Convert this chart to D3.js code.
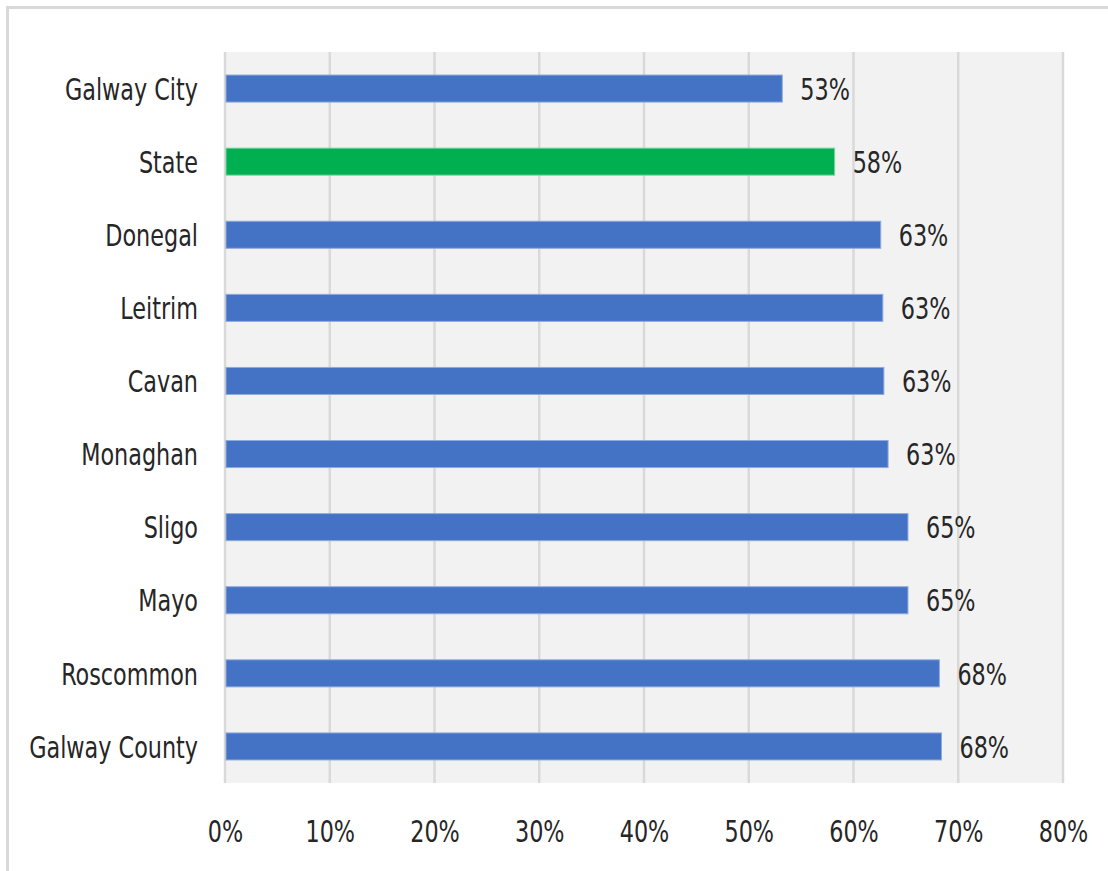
<!DOCTYPE html>
<html>
<head>
<meta charset="utf-8">
<script src="https://cdn.jsdelivr.net/npm/d3@7"></script>
<style>
  html, body { margin: 0; padding: 0; background: #ffffff; }
  svg { display: block; }
  text { font-family: "DejaVu Sans Condensed", "DejaVu Sans", sans-serif; fill: #262626; }
</style>
</head>
<body>
<svg id="chart" width="1108" height="871"></svg>
<script>
// Share by county, top to bottom
const categories = ["Galway City", "State", "Donegal", "Leitrim", "Cavan", "Monaghan", "Sligo", "Mayo", "Roscommon", "Galway County"];
const values = [53.2, 58.2, 62.6, 62.8, 62.9, 63.3, 65.2, 65.2, 68.2, 68.4];
const valueLabels = ["53%", "58%", "63%", "63%", "63%", "63%", "65%", "65%", "68%", "68%"];
const tickValues = [0, 10, 20, 30, 40, 50, 60, 70, 80];
const highlight = "State";

const svg = d3.select("#chart");
const W = 1108, H = 871;
const plot = { left: 225, right: 1063, top: 52, bottom: 783 };
const FONT = 31, SX = 0.8;   // tall, narrow lettering

// Outer chart frame (top and left edges visible)
svg.append("line").attr("x1", 6).attr("x2", W).attr("y1", 7.5).attr("y2", 7.5)
  .attr("stroke", "#d9d9d9").attr("stroke-width", 3);
svg.append("line").attr("x1", 7.5).attr("x2", 7.5).attr("y1", 6).attr("y2", H)
  .attr("stroke", "#d9d9d9").attr("stroke-width", 3);

const x = d3.scaleLinear().domain([0, 80]).range([plot.left, plot.right]);
const y = d3.scaleBand().domain(categories).range([plot.top, plot.bottom]).paddingInner(0.63).paddingOuter(0.315);

// Plot background
svg.append("rect")
  .attr("x", plot.left).attr("y", plot.top)
  .attr("width", plot.right - plot.left).attr("height", plot.bottom - plot.top)
  .attr("fill", "#f2f2f2");

// Vertical gridlines
svg.append("g").selectAll("line").data(tickValues).join("line")
  .attr("x1", d => x(d)).attr("x2", d => x(d))
  .attr("y1", plot.top).attr("y2", plot.bottom)
  .attr("stroke", "#d9d9d9").attr("stroke-width", 2.5);

// Bars
svg.append("g").selectAll("rect").data(categories).join("rect")
  .attr("x", x(0) + 1)
  .attr("y", d => y(d))
  .attr("width", (d, i) => x(values[i]) - x(0) - 1)
  .attr("height", y.bandwidth())
  .attr("fill", d => d === highlight ? "#00b050" : "#4472c4")
  .attr("stroke", d => d === highlight ? "#7fd3a0" : "#8faadc")
  .attr("stroke-width", 1);

// Narrowed text placed at an anchor point
function label(g, px, py, str, anchor) {
  g.append("g").attr("transform", `translate(${px},${py}) scale(${SX},1)`)
    .append("text")
    .attr("text-anchor", anchor)
    .attr("dy", "0.36em")
    .attr("font-size", FONT)
    .text(str);
}

// Value labels
const gv = svg.append("g");
categories.forEach((c, i) => label(gv, x(values[i]) + 18, y(c) + y.bandwidth() / 2, valueLabels[i], "start"));

// Category axis: ticks from the band scale, labels drawn narrowed
const yAxis = d3.axisLeft(y).tickSize(0).tickPadding(27);
const gy = svg.append("g").attr("transform", `translate(${plot.left},0)`).call(yAxis);
gy.select(".domain").remove();
gy.selectAll(".tick text").remove();
gy.selectAll(".tick").each(function(d) {
  label(d3.select(this), -27, 0, d, "end");
});

// Percentage axis
const xAxis = d3.axisBottom(x).tickValues(tickValues).tickSize(0).tickFormat(d => d + "%");
const gx = svg.append("g").attr("transform", `translate(0,${plot.bottom})`).call(xAxis);
gx.select(".domain").remove();
gx.selectAll(".tick text").remove();
gx.selectAll(".tick").each(function(d) {
  label(d3.select(this), 0, 48, d + "%", "middle");
});
</script>
</body>
</html>
